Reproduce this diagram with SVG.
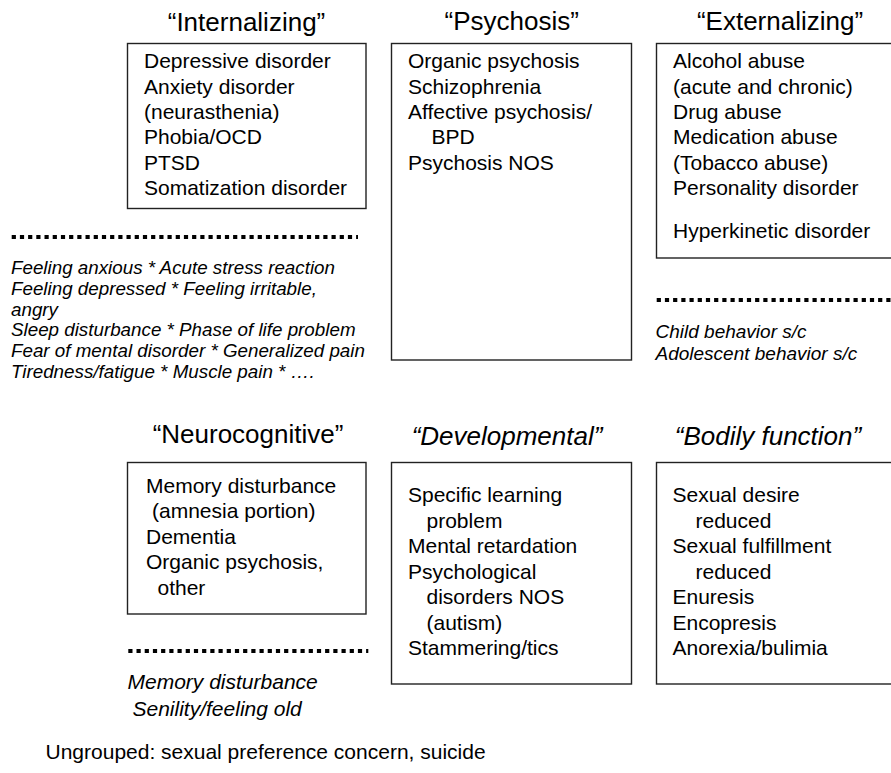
<svg xmlns="http://www.w3.org/2000/svg" width="891" height="773" viewBox="0 0 891 773">
<style>
text{font-family:"Liberation Sans",Arial,sans-serif;fill:#000}
.title{font-size:26px;text-anchor:middle}
.it{font-style:italic}
.item{font-size:21px}
.note{font-size:18.8px;font-style:italic}
.note19{font-size:19px;font-style:italic}
.note21{font-size:21px;font-style:italic}
.box{fill:#fff;stroke:#222;stroke-width:1.4}
.sep{stroke:#000;stroke-width:4;stroke-dasharray:4.2 4;fill:none}
</style>
<rect width="891" height="773" fill="#fff"/>

<g id="internalizing">
<text class="title" x="246.5" y="31">“Internalizing”</text>
<rect class="box" x="127.5" y="43.5" width="238.5" height="165"/>
<g class="item">
<text x="144" y="68">Depressive disorder</text>
<text x="144" y="93.5">Anxiety disorder</text>
<text x="144" y="119">(neurasthenia)</text>
<text x="144" y="144">Phobia/OCD</text>
<text x="144" y="169.5">PTSD</text>
<text x="144" y="195">Somatization disorder</text>
</g>
</g>

<g id="psychosis">
<text class="title" x="511.7" y="30">“Psychosis”</text>
<rect class="box" x="391.5" y="43.5" width="240" height="316.5"/>
<g class="item">
<text x="408" y="68">Organic psychosis</text>
<text x="408" y="93.5">Schizophrenia</text>
<text x="408" y="119">Affective psychosis/</text>
<text x="431.5" y="144">BPD</text>
<text x="408" y="169.5">Psychosis NOS</text>
</g>
</g>

<g id="externalizing">
<text class="title" x="780" y="30">“Externalizing”</text>
<rect class="box" x="656.5" y="43.5" width="250" height="214.5"/>
<g class="item">
<text x="673" y="68">Alcohol abuse</text>
<text x="673" y="93.5">(acute and chronic)</text>
<text x="673" y="119">Drug abuse</text>
<text x="673" y="144">Medication abuse</text>
<text x="673" y="169.5">(Tobacco abuse)</text>
<text x="673" y="195">Personality disorder</text>
<text x="673" y="238">Hyperkinetic disorder</text>
</g>
</g>

<g id="internalizing-symptoms">
<line class="sep" x1="11.7" y1="237" x2="358" y2="237"/>
<g class="note">
<text x="11" y="274">Feeling anxious * Acute stress reaction</text>
<text x="11" y="294.8">Feeling depressed * Feeling irritable,</text>
<text x="11" y="315.6">angry</text>
<text x="11" y="336.4">Sleep disturbance * Phase of life problem</text>
<text x="11" y="357.2">Fear of mental disorder * Generalized pain</text>
<text x="11" y="378">Tiredness/fatigue * Muscle pain * ….</text>
</g>
</g>

<g id="externalizing-symptoms">
<line class="sep" x1="656.7" y1="300" x2="891" y2="300"/>
<g class="note19">
<text x="655.5" y="337.5">Child behavior s/c</text>
<text x="655.5" y="359.5">Adolescent behavior s/c</text>
</g>
</g>

<g id="neurocognitive">
<text class="title" x="248" y="443">“Neurocognitive”</text>
<rect class="box" x="127.5" y="462.5" width="238.5" height="151.5"/>
<g class="item">
<text x="146" y="493">Memory disturbance</text>
<text x="152" y="518">(amnesia portion)</text>
<text x="146" y="543.5">Dementia</text>
<text x="146" y="569">Organic psychosis,</text>
<text x="157.5" y="594.5">other</text>
</g>
</g>

<g id="neurocognitive-symptoms">
<line class="sep" x1="128.3" y1="651" x2="368.3" y2="651"/>
<g class="note21">
<text x="127.5" y="689">Memory disturbance</text>
<text x="132.5" y="716">Senility/feeling old</text>
</g>
</g>

<g id="developmental">
<text class="title it" x="507" y="445">“Developmental”</text>
<rect class="box" x="391.5" y="462.5" width="240" height="221.5"/>
<g class="item">
<text x="408" y="502">Specific learning</text>
<text x="426.5" y="527.5">problem</text>
<text x="408" y="553">Mental retardation</text>
<text x="408" y="578.5">Psychological</text>
<text x="426.5" y="604">disorders NOS</text>
<text x="426.5" y="629.5">(autism)</text>
<text x="408" y="655">Stammering/tics</text>
</g>
</g>

<g id="bodily-function">
<text class="title it" x="768" y="445">“Bodily function”</text>
<rect class="box" x="656.5" y="462.5" width="250" height="221.5"/>
<g class="item">
<text x="672.5" y="502">Sexual desire</text>
<text x="695.5" y="527.5">reduced</text>
<text x="672.5" y="553">Sexual fulfillment</text>
<text x="695.5" y="578.5">reduced</text>
<text x="672.5" y="604">Enuresis</text>
<text x="672.5" y="629.5">Encopresis</text>
<text x="672.5" y="655">Anorexia/bulimia</text>
</g>
</g>

<g id="ungrouped">
<text class="item" x="45.5" y="759">Ungrouped: sexual preference concern, suicide</text>
</g>
</svg>
